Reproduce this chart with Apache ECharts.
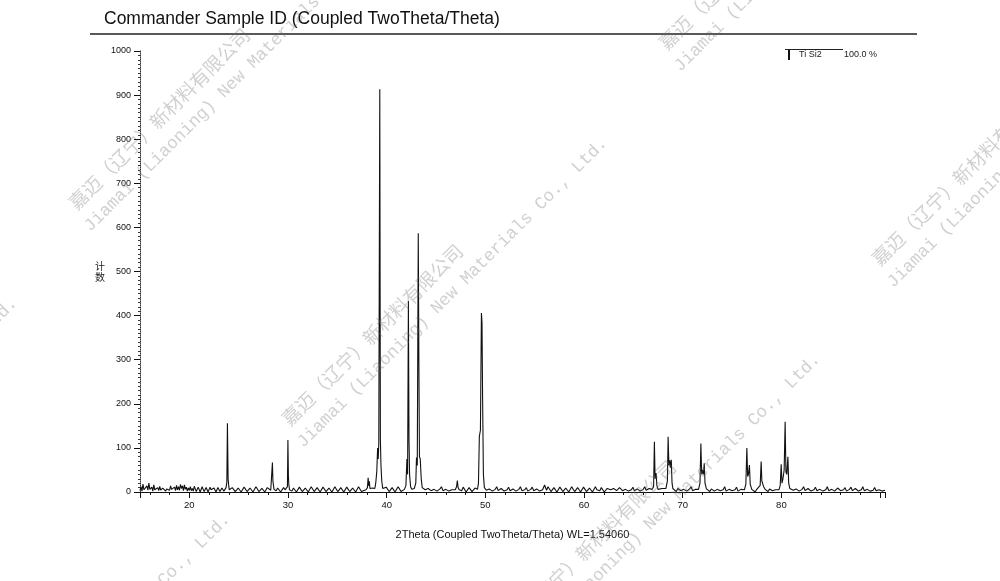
<!DOCTYPE html>
<html><head><meta charset="utf-8">
<script src="https://cdn.jsdelivr.net/npm/echarts@6/dist/echarts.min.js"></script>
<style>html,body{margin:0;padding:0;background:#fff}#c{width:1000px;height:581px}</style>
</head><body><div id="c"></div>
<script>
// ---- texts ----
const titleText = 'Commander Sample ID (Coupled TwoTheta/Theta)';
const xAxisTitle = '2Theta (Coupled TwoTheta/Theta) WL=1.54060';
const yAxisTitle = '计\n数';
const legendPhase = 'Ti Si2';
const legendScale = '100.0 %';
const watermarkCn = '嘉迈（辽宁）新材料有限公司';
const watermarkEn = 'Jiamai (Liaoning) New Materials Co., Ltd.';
const xLabelValues = [20, 30, 40, 50, 60, 70, 80];

// ---- data: [2theta, counts] ----
const backgroundPoints = [
 [15.0,3],[15.1,12],[15.2,2],[15.3,18],[15.4,5],[15.5,9],[15.6,1],[15.7,14],[15.8,4],[15.9,20],
 [16.0,6],[16.1,3],[16.2,11],[16.3,2],[16.4,16],[16.5,5],[16.6,8],[16.7,1],[16.8,10],[16.9,3],
 [17.0,13],[17.1,4],[17.2,2],[17.3,9],[17.4,5],[17.5,12],[17.6,2],[17.7,7],[17.8,3],[17.9,10],
 [18.0,4],[18.1,14],[18.2,6],[18.3,2],[18.4,9],[18.5,11],[18.6,3],[18.7,15],[18.8,5],[18.9,12],
 [19.0,4],[19.1,17],[19.2,8],[19.3,14],[19.4,3],[19.5,16],[19.6,6],[19.7,11],[19.8,2],[19.9,9],
 [20.0,4],[20.1,12],[20.2,3],[20.3,8],[20.4,2],[20.6,7],[20.8,3],[21.0,9],[21.2,2],[21.4,6],
 [21.6,3],[21.8,8],[22.0,2],[22.2,5],[22.4,3],[22.6,7],[22.8,2],[23.0,6],[23.2,3],[23.4,5],
 [24.2,4],[24.5,8],[24.8,2],[25.1,6],[25.4,3],[25.7,7],[26.0,2],[26.3,6],[26.6,3],[26.9,8],
 [27.2,2],[27.5,5],[27.8,3],[28.0,6],[28.8,3],[29.1,6],[29.4,2],[29.7,5],
 [30.4,2],[30.7,7],[31.0,3],[31.3,6],[31.6,2],[31.9,5],[32.2,3],[32.5,8],[32.8,2],[33.1,6],
 [33.4,3],[33.7,7],[34.0,2],[34.3,5],[34.6,3],[34.9,6],[35.2,2],[35.5,7],[35.8,3],[36.1,6],
 [36.4,2],[36.7,8],[37.0,3],[37.3,6],[37.6,4],
 [39.8,4],[40.1,8],[40.4,3],[40.7,6],[41.0,2],[41.3,7],[41.6,4],
 [43.9,5],[44.2,8],[44.5,3],[44.8,6],[45.1,2],[45.4,7],[45.7,3],[46.0,6],[46.3,2],[46.6,5],
 [47.6,3],[47.9,7],[48.2,2],[48.5,6],[48.8,3],[49.1,5],
 [50.1,4],[50.4,7],[50.7,2],[51.0,6],[51.3,3],[51.6,8],[51.9,2],[52.2,5],[52.5,3],[52.8,7],
 [53.1,2],[53.4,6],[53.7,3],[54.0,5],[54.3,2],[54.6,6],[54.9,3],[55.2,7],[55.5,2],[55.8,5],
 [56.0,16],[56.2,4],[56.5,9],[56.8,3],[57.1,6],[57.4,2],[57.7,7],[58.0,3],[58.3,5],[58.6,2],
 [58.9,6],[59.2,3],[59.5,5],[59.8,2],[60.1,6],[60.4,3],[60.7,7],[61.0,2],[61.3,5],[61.6,3],
 [61.9,6],[62.2,4],[62.5,12],[62.7,5],[63.0,8],[63.3,3],[63.6,10],[63.9,3],[64.2,6],[64.5,2],
 [64.8,5],[65.1,3],[65.4,7],[65.7,2],[66.0,6],[66.3,4],[66.6,8],
 [67.7,5],[67.9,8],[68.1,4],
 [69.2,5],[69.5,8],[69.8,3],[70.1,6],[70.4,2],[70.7,7],[71.0,3],[71.3,6],
 [72.6,4],[72.9,7],[73.2,2],[73.5,6],[73.8,3],[74.1,5],[74.4,2],[74.7,6],[75.0,3],[75.3,5],
 [75.6,2],[75.9,6],[77.2,4],[77.5,6],[78.5,4],[78.8,7],[79.1,3],[79.4,5],
 [81.2,4],[81.5,7],[81.8,2],[82.1,6],[82.4,3],[82.7,8],[83.0,2],[83.3,5],[83.6,3],[83.9,6],
 [84.2,2],[84.5,5],[84.8,3],[85.1,6],[85.4,2],[85.7,9],[86.0,3],[86.3,5],[86.6,2],[86.9,6],
 [87.2,3],[87.5,8],[87.8,2],[88.1,5],[88.4,3],[88.7,6],[89.0,2],[89.3,4],[89.6,3],[89.9,5],
 [90.2,2],[90.5,4]
];
const backgroundExtra = [
 [20.5,13],[20.7,1],[20.9,11],[21.1,0],[21.3,12],[21.5,1],[21.7,10],[21.9,0],[22.1,11],[22.3,1],
 [22.5,9],[22.7,0],[22.9,10],[23.1,1],[23.3,9],[23.5,2],
 [24.35,10],[24.65,1],[24.95,9],[25.25,0],[25.55,11],[25.85,1],[26.15,9],[26.45,0],[26.75,12],[27.05,1],
 [27.35,8],[27.65,0],[27.9,10],[28.95,9],[29.25,0],[29.55,10],[30.55,9],[30.85,0],[31.15,11],[31.45,1],
 [31.75,9],[32.05,0],[32.35,12],[32.65,1],[32.95,10],[33.25,0],[33.55,11],[33.85,1],[34.15,9],[34.45,0],
 [34.75,12],[35.05,1],[35.35,10],[35.65,0],[35.95,11],[36.25,1],[36.55,9],[36.85,0],[37.15,12],[37.45,1],
 [39.95,11],[40.25,1],[40.55,10],[40.85,0],[41.15,12],[41.45,1],[44.05,1],[44.35,11],[44.65,0],[44.95,10],
 [45.25,1],[45.55,12],[45.85,0],[46.15,9],[46.45,1],[47.75,11],[48.05,0],[48.35,10],[48.65,1],[48.95,9],
 [50.25,1],[50.55,11],[50.85,0],[51.15,12],[51.45,1],[51.75,10],[52.05,0],[52.35,11],[52.65,1],[52.95,9],
 [53.25,0],[53.55,12],[53.85,1],[54.15,10],[54.45,0],[54.75,11],[55.05,1],[55.35,9],[55.65,0],[56.35,12],
 [56.65,1],[56.95,10],[57.25,0],[57.55,11],[57.85,1],[58.15,9],[58.45,0],[58.75,12],[59.05,1],[59.35,10],
 [59.65,0],[59.95,11],[60.25,1],[60.55,9],[60.85,0],[61.15,12],[61.45,1],[61.75,10],[62.05,0],[62.35,8],
 [62.85,1],[63.15,11],[63.45,0],[63.75,14],[64.05,1],[64.35,10],[64.65,0],[64.95,11],[65.25,1],[65.55,9],
 [65.85,0],[66.15,12],[66.45,1],[69.35,1],[69.65,11],[69.95,0],[70.25,10],[70.55,1],[70.85,12],[71.15,0],
 [71.45,9],[72.75,1],[73.05,11],[73.35,0],[73.65,10],[73.95,1],[74.25,12],[74.55,0],[74.85,9],[75.15,1],
 [75.45,11],[75.75,0],[76.05,9],[77.35,0],[78.65,1],[78.95,10],[79.25,0],[79.55,9],[81.35,1],[81.65,10],
 [81.95,0],[82.25,12],[82.55,1],[82.85,9],[83.15,0],[83.45,11],[83.75,1],[84.05,10],[84.35,0],[84.65,12],
 [84.95,1],[85.25,9],[85.55,0],[85.85,13],[86.15,1],[86.45,10],[86.75,0],[87.05,11],[87.35,1],[87.65,9],
 [87.95,0],[88.25,12],[88.55,1],[88.85,9],[89.15,0],[89.45,10],[89.75,1],[90.05,8],[90.35,1]
];
const peakPoints = [
 [23.6,6],[23.72,10],[23.8,22],[23.86,156],[23.93,30],[24.0,12],[24.05,5],
 [28.25,4],[28.36,8],[28.42,67],[28.47,25],[28.52,22],[28.58,6],
 [29.85,5],[29.94,12],[29.99,118],[30.04,35],[30.08,18],[30.15,5],
 [37.9,5],[38.05,10],[38.12,32],[38.18,14],[38.24,24],[38.3,8],[38.4,6],[38.55,9],[38.7,7],
 [38.8,8],[38.9,22],[39.0,48],[39.08,100],[39.14,75],[39.2,110],[39.3,913],[39.36,120],[39.42,60],[39.5,25],[39.6,8],
 [41.8,6],[41.95,15],[42.05,75],[42.12,40],[42.2,433],[42.26,120],[42.32,40],[42.42,12],[42.55,6],
 [42.8,8],[42.95,20],[43.02,78],[43.1,60],[43.2,587],[43.26,300],[43.32,80],[43.4,75],[43.5,30],[43.6,10],[43.7,6],
 [46.95,5],[47.08,12],[47.16,26],[47.24,10],[47.35,5],
 [49.2,6],[49.3,20],[49.39,126],[49.5,140],[49.6,406],[49.66,384],[49.72,213],[49.8,40],[49.9,10],
 [66.9,6],[67.05,12],[67.13,114],[67.2,30],[67.3,43],[67.38,15],[67.5,6],
 [68.3,8],[68.45,25],[68.52,125],[68.6,60],[68.68,72],[68.75,55],[68.84,73],[68.92,20],[69.0,8],
 [71.6,6],[71.75,20],[71.84,110],[71.92,40],[72.0,50],[72.1,40],[72.18,65],[72.26,20],[72.4,7],
 [76.25,5],[76.4,18],[76.5,100],[76.58,35],[76.66,40],[76.76,61],[76.84,18],[77.0,6],
 [77.7,5],[77.85,15],[77.95,69],[78.02,25],[78.12,27],[78.2,12],[78.35,6],
 [79.75,5],[79.88,15],[79.98,63],[80.06,20],[80.16,30],[80.28,50],[80.38,159],[80.46,45],[80.55,40],[80.66,80],[80.74,20],[80.85,8],[81.0,5]
];

const profile = backgroundPoints.concat(backgroundExtra, peakPoints).sort((a, b) => a[0] - b[0]);

// watermark anchor positions (pixel layout of the overlay)
const wmAnchors = [[285,422],[72,206],[498,638],[875,262],[662,46],[-305,582],[-92,798]];
const wmAngle = Math.PI / 4;

const fontMain = "'Liberation Sans', Arial, sans-serif";
const fontNarrow = "'Liberation Sans Narrow', 'Liberation Sans', Arial, sans-serif";

const graphics = [
  { type: 'line', shape: { x1: 90, y1: 34, x2: 917, y2: 34 }, style: { stroke: '#222', lineWidth: 1.5 }, z: 10 },
  { type: 'line', shape: { x1: 785, y1: 49.5, x2: 843, y2: 49.5 }, style: { stroke: '#222', lineWidth: 1 }, z: 10 },
  { type: 'line', shape: { x1: 789, y1: 50, x2: 789, y2: 60 }, style: { stroke: '#111', lineWidth: 2 }, z: 10 },
  { type: 'text', x: 799, y: 55, style: { text: legendPhase, font: '9px ' + fontNarrow, fill: '#222', verticalAlign: 'middle' }, z: 10 },
  { type: 'text', x: 844, y: 55, style: { text: legendScale, font: '9px ' + fontNarrow, fill: '#222', verticalAlign: 'middle' }, z: 10 }
];
wmAnchors.forEach(([ax, ay]) => {
  graphics.push({ type: 'text', x: ax, y: ay, rotation: wmAngle, silent: true, z: 20,
    style: { text: watermarkCn, font: "19px 'Noto Sans CJK SC', 'Noto Sans CJK JP', sans-serif", fill: 'rgba(110,110,110,0.32)', verticalAlign: 'middle' } });
  graphics.push({ type: 'text', x: ax + 15, y: ay + 23, rotation: wmAngle, silent: true, z: 20,
    style: { text: watermarkEn, font: "17.5px 'Liberation Mono', 'DejaVu Sans Mono', monospace", fill: 'rgba(110,110,110,0.32)', verticalAlign: 'middle' } });
});

const chart = echarts.init(document.getElementById('c'), null, { renderer: 'canvas' });
chart.setOption({
  animation: false,
  backgroundColor: '#fff',
  title: { text: titleText, left: 99, top: 5, textStyle: { fontSize: 17.5, fontWeight: 'normal', color: '#111', fontFamily: fontMain } },
  grid: { left: 140, right: 115, top: 51, bottom: 89, containLabel: false },
  xAxis: {
    type: 'value', min: 15, max: 90.5, splitNumber: 8,
    name: xAxisTitle, nameLocation: 'middle', nameGap: 37,
    nameTextStyle: { fontSize: 11, color: '#111', fontFamily: fontMain },
    axisLine: { show: true, onZero: false, lineStyle: { color: '#111', width: 1 } },
    axisTick: { show: true, inside: false, length: 6, lineStyle: { color: '#111' } },
    minorTick: { show: true, splitNumber: 5, length: 3, lineStyle: { color: '#111' } },
    axisLabel: { fontSize: 9.5, color: '#111', margin: 8, fontFamily: fontNarrow,
      formatter: v => xLabelValues.indexOf(Math.round(v * 100) / 100) >= 0 ? String(v) : '' },
    splitLine: { show: false }
  },
  yAxis: {
    type: 'value', min: 0, max: 1000, interval: 100,
    name: yAxisTitle, nameLocation: 'middle', nameGap: 34, nameRotate: 0,
    nameTextStyle: { fontSize: 10, color: '#222', lineHeight: 11, fontFamily: "'Noto Sans CJK SC', sans-serif" },
    axisLine: { show: true, lineStyle: { color: '#333', width: 1, type: 'dotted' } },
    axisTick: { show: true, inside: false, length: 6, lineStyle: { color: '#111' } },
    minorTick: { show: true, splitNumber: 10, length: 2, lineStyle: { color: '#333' } },
    axisLabel: { fontSize: 9, color: '#111', margin: 9, fontFamily: fontNarrow, formatter: v => String(v) },
    splitLine: { show: false }
  },
  series: [{
    type: 'line', data: profile, showSymbol: false, symbol: 'none', sampling: false, smooth: false,
    lineStyle: { color: '#111', width: 1.1 }, clip: true
  }],
  graphic: graphics
});
</script></body></html>
